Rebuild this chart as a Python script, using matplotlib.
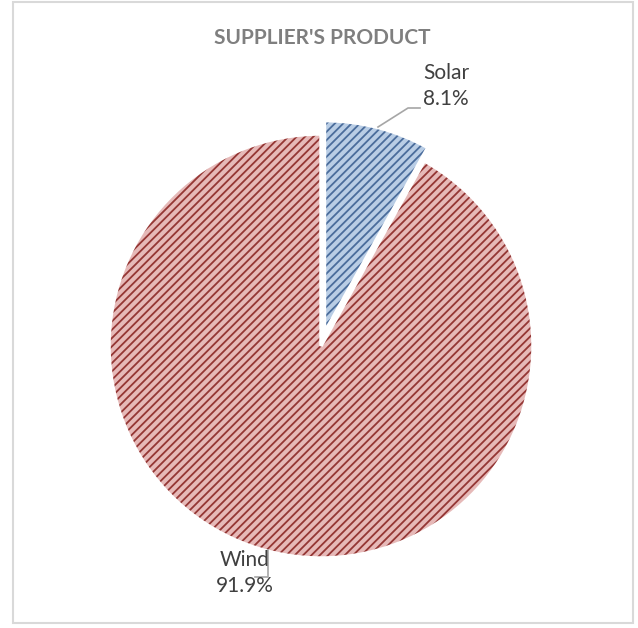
import matplotlib.pyplot as plt
from matplotlib.patches import Rectangle

labels = ['Solar', 'Wind']
shares = [8.1, 91.9]
fill_colors = ['#B9CDE5', '#E6B9B8']
hatch_colors = ['#4A6C9B', '#943634']

W, H = 638, 628
cx, cy, r = 321, H - 346, 212

plt.rcParams['hatch.linewidth'] = 1.3
plt.rcParams['font.family'] = ['Lato', 'DejaVu Sans']

fig = plt.figure(figsize=(W / 100, H / 100), dpi=100)
ax = fig.add_axes([0, 0, 1, 1])

explode = [0.065 * r, 0]

# filled + hatched wedges
wedges, _ = ax.pie(shares, startangle=90, counterclock=False, radius=r,
                   center=(cx, cy), explode=explode, colors=fill_colors,
                   frame=True)
for w, hc in zip(wedges, hatch_colors):
    w.set_hatch('////')
    w.set_edgecolor(hc)
    w.set_linewidth(0)

# white outlines on top
ax.pie(shares, startangle=90, counterclock=False, radius=r,
       center=(cx, cy), explode=explode, frame=True,
       wedgeprops=dict(facecolor='none', edgecolor='white', linewidth=2.5))
ax.set_xlim(0, W)
ax.set_ylim(0, H)
ax.axis('off')

txt = dict(ha='center', va='center', fontsize=15, color='#404040', linespacing=1.35)
ax.text(446, H - 86, f"{labels[0]}\n{shares[0]}%", **txt)
ax.text(245, H - 573, f"{labels[1]}\n{shares[1]}%", **txt)

# leader lines
ax.plot([378, 408, 420], [H - 127, H - 108, H - 108], color='#A6A6A6', lw=1.2)
ax.plot([268, 268, 255], [H - 550, H - 577, H - 577], color='#A6A6A6', lw=1.2)

ax.text(322, H - 38, "SUPPLIER'S PRODUCT", ha='center', va='center',
        fontsize=15, fontweight='bold', color='#7F7F7F')

fig.patches.append(Rectangle((13 / W, 5 / H), 620 / W, 621 / H,
                             transform=fig.transFigure, fill=False,
                             edgecolor='#D9D9D9', linewidth=1.5))

fig.savefig('out.png', dpi=100)
